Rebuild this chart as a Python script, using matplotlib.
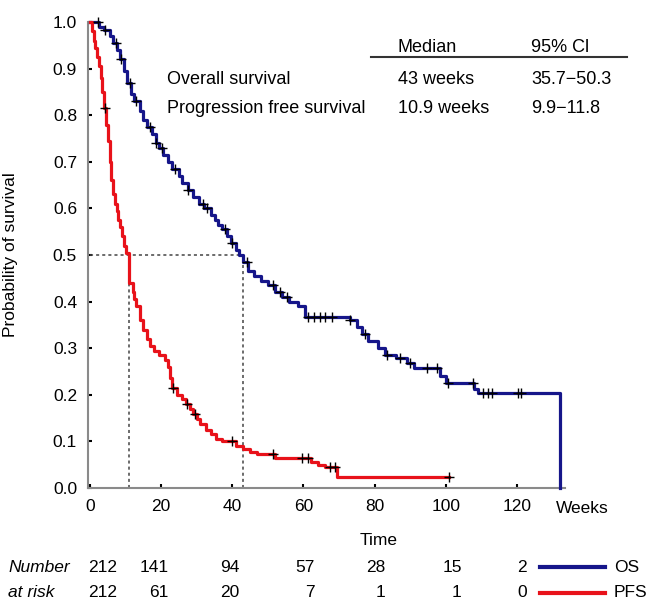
import numpy as np
import matplotlib
matplotlib.use('Agg')
import matplotlib.pyplot as plt

plt.rcParams['font.family'] = ['Liberation Sans', 'DejaVu Sans']
plt.rcParams['font.size'] = 12.5

# Kaplan-Meier step knots (weeks, survival)
os_weeks = [0, 2.5, 4, 5.5, 6.5, 7.5, 8.5, 9.5, 10.5, 11.5, 12.5, 14, 15, 16, 17.5, 18.5,
            19.5, 20.5, 22, 23, 25, 26, 27.5, 29, 30.5, 32, 34, 35, 36, 37, 38.5, 39.5,
            41, 42, 43, 44.5, 46, 48, 50, 52, 54, 56, 58.5, 60.5, 73, 75, 76.5, 78, 81,
            83, 86, 89, 91, 98.5, 100, 108, 109, 132, 132]
os_surv = [1.0, 0.99, 0.982, 0.97, 0.955, 0.94, 0.92, 0.895, 0.87, 0.845, 0.83, 0.81, 0.79,
           0.775, 0.76, 0.74, 0.73, 0.715, 0.70, 0.685, 0.67, 0.655, 0.64, 0.625, 0.61,
           0.60, 0.585, 0.575, 0.565, 0.555, 0.54, 0.525, 0.51, 0.50, 0.485, 0.465, 0.455,
           0.445, 0.435, 0.42, 0.41, 0.40, 0.39, 0.368, 0.36, 0.345, 0.33, 0.315, 0.30,
           0.285, 0.278, 0.268, 0.257, 0.24, 0.225, 0.213, 0.204, 0.204, 0.0]
os_censor = [2.2, 4.2, 7.3, 8.7, 11.2, 13, 16.9, 18.5, 20.2, 24, 27.5, 31.7, 33, 38, 40, 44,
             51.4, 53.4, 55.3, 61.2, 63, 64.6, 66, 68, 73, 77.2, 83.4, 87, 90, 94.7, 97.5,
             100.6, 107.6, 110.4, 111.8, 113, 120.2, 121]

pfs_weeks = [0, 0.5, 1, 1.5, 2, 2.5, 3, 3.5, 4, 4.5, 5, 5.5, 6, 6.5, 7, 7.5, 8, 8.5, 9, 9.5,
             10, 10.9, 11, 12, 12.5, 13, 14, 15, 16, 17, 18, 19.5, 21, 22, 22.5, 23, 24.5,
             26, 27, 28, 29, 30, 31, 32.5, 34, 35.5, 37, 41, 43, 45, 47, 52, 62, 64, 66,
             69.5, 101]
pfs_surv = [1.0, 0.98, 0.96, 0.945, 0.925, 0.905, 0.88, 0.85, 0.815, 0.78, 0.745, 0.70, 0.66,
            0.63, 0.61, 0.595, 0.575, 0.56, 0.54, 0.52, 0.505, 0.47, 0.44, 0.42, 0.405, 0.39,
            0.36, 0.34, 0.32, 0.305, 0.295, 0.285, 0.275, 0.26, 0.235, 0.215, 0.20, 0.19,
            0.18, 0.17, 0.158, 0.148, 0.138, 0.125, 0.115, 0.105, 0.10, 0.09, 0.083, 0.078,
            0.072, 0.064, 0.056, 0.05, 0.045, 0.024, 0.024]
pfs_censor = [4.2, 23.3, 27.2, 29.5, 40, 51.4, 59.6, 61.2, 67.4, 68.8, 101]

os_median = 43
pfs_median = 10.9

risk_ticks = [0, 20, 40, 60, 80, 100, 120]
risk_os = [212, 141, 94, 57, 28, 15, 2]
risk_pfs = [212, 61, 20, 7, 1, 1, 0]

table_rows = ['Overall survival', 'Progression free survival']
table_median = ['43 weeks', '10.9 weeks']
table_ci = ['35.7\u221250.3', '9.9\u221211.8']

OS_COL = '#16168a'
PFS_COL = '#e8121a'


def at(weeks, surv, t):
    weeks = np.asarray(weeks)
    idx = np.searchsorted(weeks, t, side='right') - 1
    return np.asarray(surv)[idx]


fig = plt.figure(figsize=(6.5, 6.05), dpi=100)
ax = fig.add_axes([0.1357, 0.1934, 0.7335, 0.7702])

ax.step(os_weeks, os_surv, where='post', color=OS_COL, lw=2.3, zorder=3, clip_on=False)
ax.step(pfs_weeks, pfs_surv, where='post', color=PFS_COL, lw=2.3, zorder=3, clip_on=False)
ax.plot(os_censor, at(os_weeks[:-1], os_surv[:-1], os_censor), ls='none', marker='+',
        ms=7, mew=1.0, color='k', zorder=4, clip_on=False)
ax.plot(pfs_censor, at(pfs_weeks, pfs_surv, pfs_censor), ls='none', marker='+',
        ms=7, mew=1.0, color='k', zorder=4, clip_on=False)

# median guide lines
dash = dict(color='#444444', lw=1.1, ls=(0, (2, 2)), zorder=2)
ax.plot([0, os_median], [0.5, 0.5], **dash)
ax.plot([pfs_median, pfs_median], [0, 0.5], **dash)
ax.plot([os_median, os_median], [0, 0.5], **dash)

ax.set_xlim(-0.5, 133.5)
ax.set_ylim(0, 1.0)
ax.set_xticks(risk_ticks)
ax.set_yticks(np.arange(0, 1.01, 0.1))
ax.set_yticklabels([f'{v:.1f}' for v in np.arange(0, 1.01, 0.1)])
for s in ['top', 'right']:
    ax.spines[s].set_visible(False)
for s in ['left', 'bottom']:
    ax.spines[s].set_color('#8a8a8a')
    ax.spines[s].set_linewidth(1.5)
ax.tick_params(direction='in', length=3, width=1.5, pad=8, labelsize=12.5)
ax.set_ylabel('Probability of survival', fontsize=12.5)
ax.yaxis.set_label_coords(-0.147, 0.5)

ax.text(131, -0.043, 'Weeks', ha='left', va='center', fontsize=12.5)
ax.text(81, -0.112, 'Time', ha='center', va='center', fontsize=12.5)

# median table
ax.text(86.5, 0.946, 'Median', ha='left', va='center', fontsize=13)
ax.text(124, 0.946, '95% Cl', ha='left', va='center', fontsize=13)
ax.plot([79, 151], [0.925, 0.925], color='#333333', lw=1.5, clip_on=False)
for i, row in enumerate(table_rows):
    yy = 0.876 - i * 0.062
    ax.text(21.6, yy, row, ha='left', va='center', fontsize=13)
    ax.text(86.5, yy, table_median[i], ha='left', va='center', fontsize=13)
    ax.text(124, yy, table_ci[i], ha='left', va='center', fontsize=13)

# number at risk
risk_x = [7.6, 22.2, 41.9, 63.2, 83.1, 104.5, 122.8]
ax.text(-23, -0.17, 'Number', style='italic', ha='left', va='center', fontsize=12.5)
ax.text(-23, -0.225, 'at risk', style='italic', ha='left', va='center', fontsize=12.5)
for xx, a, b in zip(risk_x, risk_os, risk_pfs):
    ax.text(xx, -0.17, str(a), ha='right', va='center', fontsize=12.5)
    ax.text(xx, -0.225, str(b), ha='right', va='center', fontsize=12.5)
ax.plot([126.4, 144.7], [-0.17, -0.17], color=OS_COL, lw=3, clip_on=False)
ax.plot([126.4, 144.7], [-0.225, -0.225], color=PFS_COL, lw=3, clip_on=False)
ax.text(147.2, -0.17, 'OS', ha='left', va='center', fontsize=12.5)
ax.text(147.2, -0.225, 'PFS', ha='left', va='center', fontsize=12.5)

fig.savefig('out.png', dpi=100)
